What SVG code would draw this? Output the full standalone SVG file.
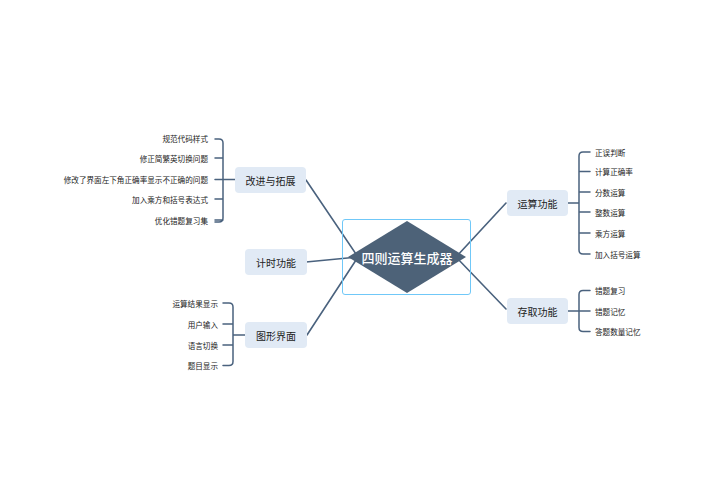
<svg xmlns="http://www.w3.org/2000/svg" width="704" height="503" viewBox="0 0 704 503">
<style>
.ln{fill:none;stroke:#4a627e;stroke-width:1.6;stroke-linecap:round}
.br{fill:none;stroke:#4a627e;stroke-width:1.5;stroke-linecap:round}
.nd{fill:#e1eaf5}
.nt{font-family:"Noto Sans CJK SC","Noto Sans",sans-serif;font-size:10px;fill:#222;text-anchor:middle;dominant-baseline:central}
.it{font-family:"Noto Sans CJK SC","Noto Sans",sans-serif;font-size:7.6px;fill:#222;dominant-baseline:central}
.r{text-anchor:end}
.l{text-anchor:start}
</style>
<rect width="704" height="503" fill="#ffffff"/>
<g id="connectors">
<line class="ln" x1="306" y1="180" x2="358" y2="257"/>
<line class="ln" x1="306" y1="262" x2="358" y2="257"/>
<line class="ln" x1="307" y1="335" x2="358" y2="257"/>
<line class="ln" x1="456" y1="257" x2="506" y2="203"/>
<line class="ln" x1="456" y1="257" x2="506" y2="309"/>
<path class="br" d="M215,139 H219 Q223,139 223,143 V218 Q223,222 219,222 H215 M215,158 H223 M215,179.5 H235 M215,199 H223 M215,220 H223"/>
<path class="br" d="M223,303 H229 Q233,303 233,307 V361.5 Q233,365.5 229,365.5 H223 M223,324 H233 M223,345 H233 M233,335 H245"/>
<path class="br" d="M590,152 H583 Q579,152 579,156 V250 Q579,254 583,254 H590 M590,171.5 H579 M590,192 H579 M590,212 H579 M590,233 H579 M568,203 H579"/>
<path class="br" d="M590,290.5 H583 Q579,290.5 579,294.5 V327.5 Q579,331.5 583,331.5 H590 M590,311 H579 M568,311 H579"/>
</g>
<g id="center">
<rect x="342.5" y="219.5" width="128" height="75" rx="2.5" fill="none" stroke="#70c8f8" stroke-width="1"/>
<polygon points="407,221 466,257 407,293 348,257" fill="#4d6278"/>
<text x="407" y="257.5" font-family="'Noto Sans CJK SC','Noto Sans',sans-serif" font-size="13" font-weight="500" fill="#ffffff" text-anchor="middle" dominant-baseline="central">四则运算生成器</text>
</g>
<g id="n-gaijin">
<rect class="nd" x="235" y="167" width="71" height="26" rx="4"/>
<text class="nt" x="270.5" y="180">改进与拓展</text>
<text class="it r" x="208" y="138">规范代码样式</text>
<text class="it r" x="208" y="158">修正简繁英切换问题</text>
<text class="it r" x="208" y="179.5">修改了界面左下角正确率显示不正确的问题</text>
<text class="it r" x="208" y="199">加入乘方和括号表达式</text>
<text class="it r" x="208" y="220">优化错题复习集</text>
</g>
<g id="n-jishi">
<rect class="nd" x="245" y="249" width="62" height="26" rx="4"/>
<text class="nt" x="276" y="262">计时功能</text>
</g>
<g id="n-tuxing">
<rect class="nd" x="245" y="322" width="62" height="26" rx="4"/>
<text class="nt" x="276" y="335">图形界面</text>
<text class="it r" x="218" y="303">运算结果显示</text>
<text class="it r" x="218" y="324">用户输入</text>
<text class="it r" x="218" y="345">语言切换</text>
<text class="it r" x="218" y="365.5">题目显示</text>
</g>
<g id="n-yunsuan">
<rect class="nd" x="507" y="190" width="61" height="26" rx="4"/>
<text class="nt" x="537.5" y="203">运算功能</text>
<text class="it l" x="595" y="152">正误判断</text>
<text class="it l" x="595" y="171.5">计算正确率</text>
<text class="it l" x="595" y="192">分数运算</text>
<text class="it l" x="595" y="212">整数运算</text>
<text class="it l" x="595" y="233">乘方运算</text>
<text class="it l" x="595" y="254">加入括号运算</text>
</g>
<g id="n-cunqu">
<rect class="nd" x="507" y="298" width="61" height="26" rx="4"/>
<text class="nt" x="537.5" y="311">存取功能</text>
<text class="it l" x="595" y="290">错题复习</text>
<text class="it l" x="595" y="311">错题记忆</text>
<text class="it l" x="595" y="331">答题数量记忆</text>
</g>
</svg>
